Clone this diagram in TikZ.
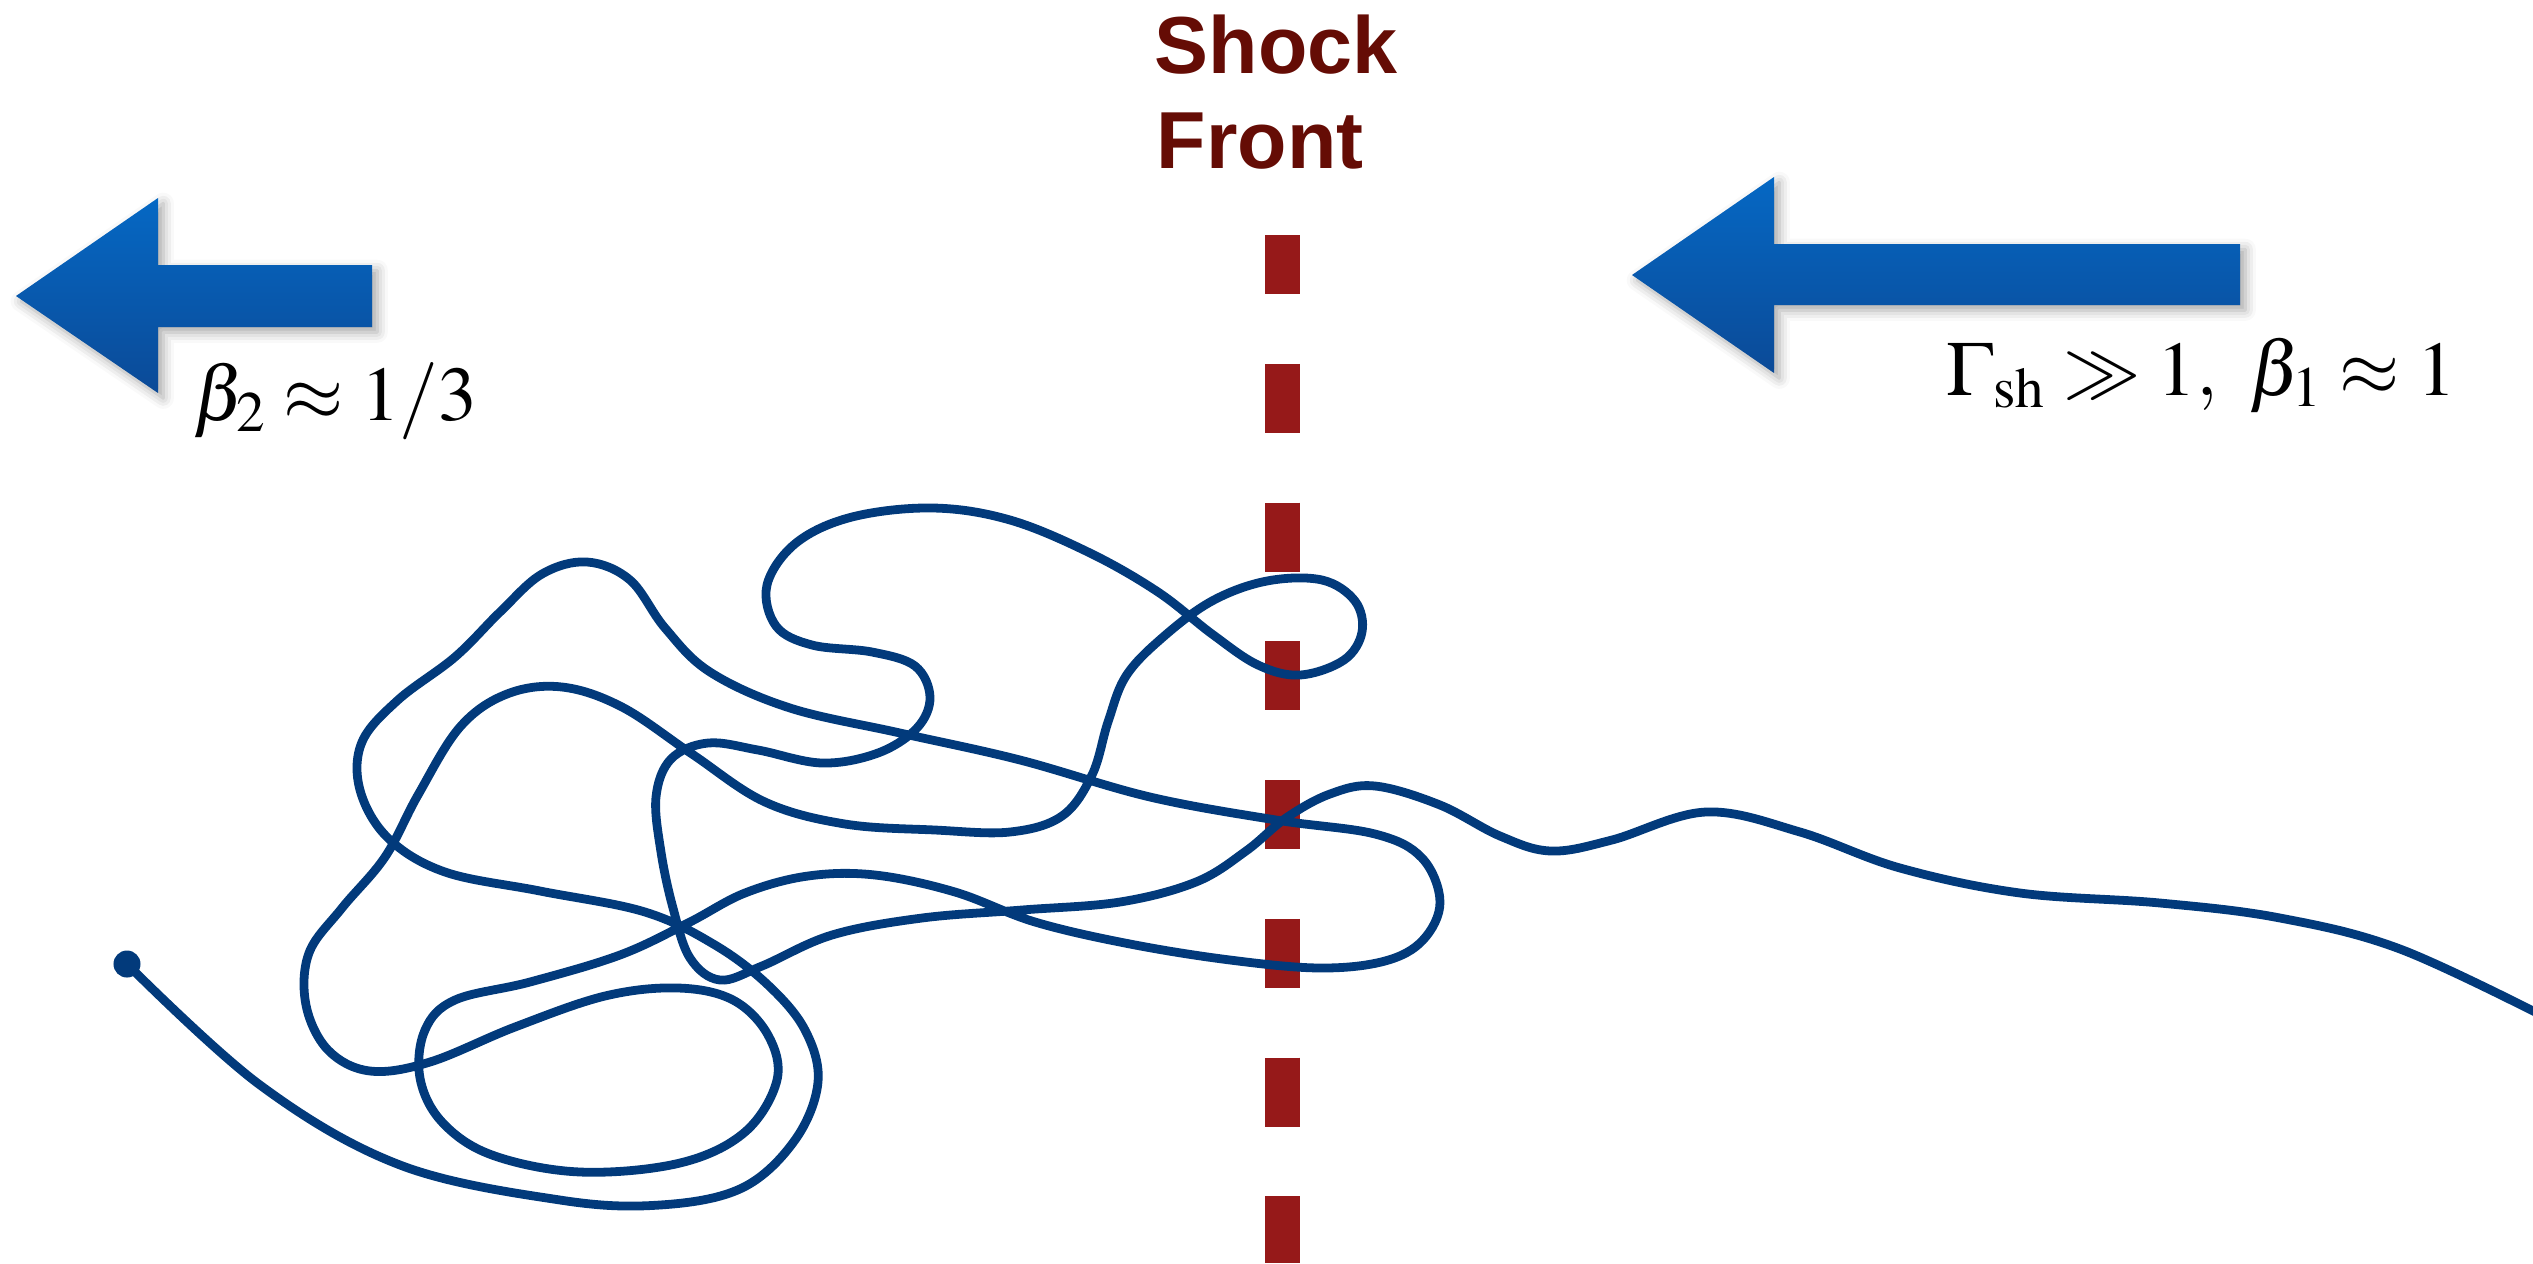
\documentclass[tikz,border=0pt]{standalone}
\usepackage{mathptmx}
\usepackage{fontspec}
\newfontfamily\shockfont{Liberation Sans}
\usetikzlibrary{positioning, shadows.blur}
\usepackage{xcolor}

\definecolor{trackblue}{HTML}{023A7B}
\definecolor{shockred}{HTML}{961919}
\definecolor{shocktext}{HTML}{650C05}
\definecolor{arrowtop}{HTML}{0568C4}
\definecolor{arrowbot}{HTML}{0B4A97}

\begin{document}
\begin{tikzpicture}[
    x=0.01cm, y=-0.01cm,
    track/.style={draw=trackblue, line width=2.5pt, line join=round, line cap=round},
    dot/.style={circle, fill=trackblue, minimum size=0.27cm, inner sep=0pt},
    flowarrow/.style={top color=arrowtop, bottom color=arrowbot, draw=none,
                      blur shadow={shadow xshift=1.5pt, shadow yshift=-1.5pt,
                                   shadow blur radius=3pt, shadow opacity=35}},
    shockline/.style={draw=shockred, line width=0.35cm,
                      dash pattern=on 0.69cm off 0.697cm, dash phase=0.1cm},
    shocklabel/.style={font=\shockfont\bfseries\fontsize{23}{27}\selectfont,
                       text=shocktext, inner sep=0pt, anchor=base west},
    vlabel/.style={font=\fontsize{22}{26}\selectfont, inner sep=0pt, anchor=base west}
]
\useasboundingbox (0,0) rectangle (2533,1263);

% --- Shock front ---
\node[shocklabel] (shock) at (1154,73) {Shock};
\node[shocklabel] (front) at (1156,168) {Front};
\coordinate (fronttop) at (1282.5,235);
\coordinate (frontbot) at (1282.5,1263);
\draw[shockline] (fronttop) -- (frontbot);

% --- Flow arrows ---
\path[flowarrow] (16,296) -- (158,198) -- (158,265) -- (372,265)
    -- (372,327) -- (158,327) -- (158,393) -- cycle;
\path[flowarrow] (1632,275) -- (1774,177) -- (1774,244) -- (2240,244)
    -- (2240,305) -- (1774,305) -- (1774,373) -- cycle;

\node[vlabel] (down) at (193,420) {$\beta_2 \approx 1/3$};
\node[vlabel] (up) at (1946,395) {$\Gamma_{\mathrm{sh}} \gg 1,\ \beta_1 \approx 1$};

% --- Particle track ---
\node[dot] (start) at (127,964) {};
\draw[track] plot[smooth, tension=0.6] coordinates {
    (127,964) (260,1085) (400,1165) (560,1200) (660,1205) (742,1188)
    (795,1140) (818,1082) (805,1030) (768,985) (715,945) (645,912)
    (540,891) (445,872) (388,838) (360,790) (362,742) (398,700)
    (455,657) (500,612) (542,574) (587,562) (630,580) (665,628)
    (710,672) (790,708) (900,733) (1020,760) (1150,797) (1276,820)
    (1375,834) (1422,858) (1440,902) (1423,940) (1385,961) (1320,968)
    (1230,960) (1130,944) (1035,922) (955,892) (875,875) (808,876)
    (745,893) (688,923) (620,955) (530,982) (455,1000) (425,1030)
    (420,1078) (442,1122) (492,1155) (580,1172) (680,1163) (745,1132)
    (777,1080) (768,1035) (733,1000) (678,988) (605,996) (515,1027)
    (430,1062) (370,1071) (328,1050) (306,1005) (309,953) (342,908)
    (385,857) (418,795) (460,727) (507,694) (562,687) (622,707)
    (692,754) (765,802) (845,824) (935,830) (1010,832) (1062,816)
    (1092,775) (1108,722) (1126,676) (1162,638) (1212,601) (1267,581)
    (1322,580) (1355,601) (1362,632) (1344,660) (1300,675) (1258,665)
    (1212,634) (1158,592) (1090,553) (1010,520) (933,508) (852,517)
    (796,543) (767,585) (776,626) (812,645) (872,652) (915,666)
    (930,697) (917,728) (878,753) (822,763) (758,750) (708,743)
    (671,759) (656,797) (661,852) (673,908) (690,958) (720,980)
    (762,966) (832,935) (922,918) (1022,910) (1120,902) (1196,882)
    (1246,851) (1286,818) (1330,794) (1375,786) (1440,805) (1500,836)
    (1551,851) (1612,840) (1706,812) (1800,832) (1900,868) (2020,893)
    (2160,903) (2280,918) (2400,949) (2545,1017)};

\end{tikzpicture}
\end{document}
